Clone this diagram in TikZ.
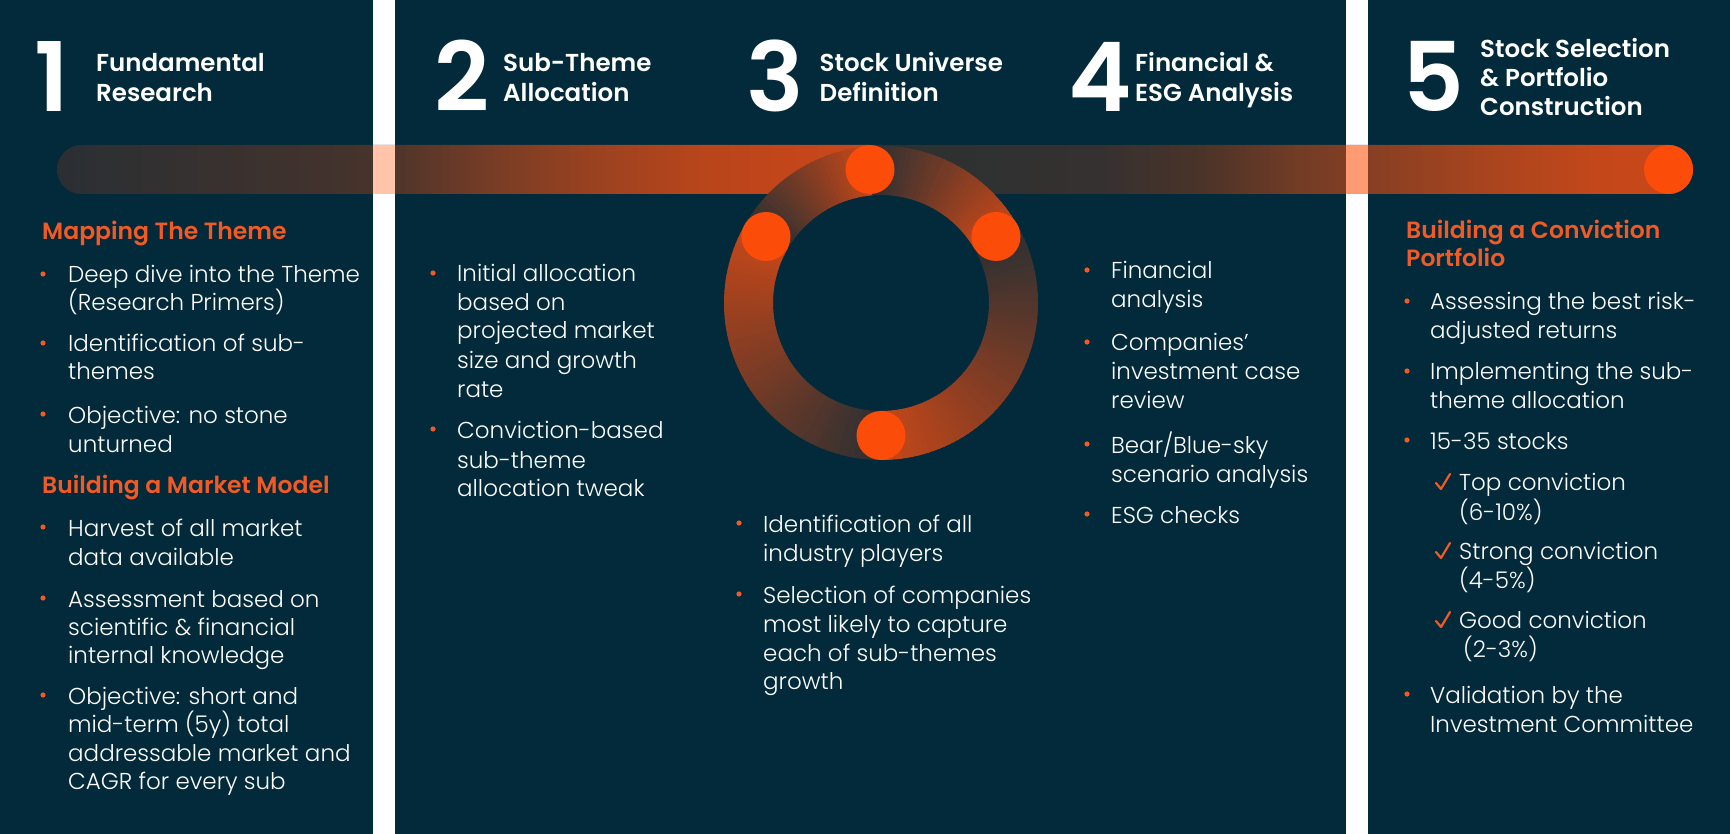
\documentclass[tikz,border=0pt]{standalone}
\usepackage{fontspec}
\IfFontExistsTF{Poppins Light}{\newfontfamily\bodyfnt{Poppins Light}}{\newfontfamily\bodyfnt{Poppins}}
\IfFontExistsTF{Poppins SemiBold}{\newfontfamily\headfnt{Poppins SemiBold}}{\newfontfamily\headfntbase{Poppins}\newcommand\headfnt{\headfntbase\bfseries}}
\definecolor{navy}{RGB}{2,42,58}
\definecolor{orng}{RGB}{241,90,36}
\definecolor{dotc}{RGB}{252,76,10}
\definecolor{ringD}{RGB}{45,48,50}
\definecolor{ringE}{RGB}{198,71,25}
\definecolor{peachA}{RGB}{255,196,170}
\definecolor{peachB}{RGB}{255,155,115}
\definecolor{ba0}{RGB}{42,47,51}
\definecolor{ba1}{RGB}{70,51,44}
\definecolor{ba2}{RGB}{122,61,37}
\definecolor{ba3}{RGB}{156,66,32}
\definecolor{ba4}{RGB}{184,69,27}
\definecolor{ba5}{RGB}{196,70,26}
\definecolor{ba6}{RGB}{202,72,24}
\definecolor{bb0}{RGB}{47,49,49}
\definecolor{bb2}{RGB}{53,49,48}
\definecolor{bb3}{RGB}{74,51,41}
\definecolor{bb4}{RGB}{115,60,37}
\definecolor{bb5}{RGB}{128,62,36}
\definecolor{bb6}{RGB}{172,69,30}
\definecolor{bb7}{RGB}{196,71,26}
\definecolor{bb8}{RGB}{200,72,26}
\pgfdeclarehorizontalshading{barA}{100bp}{color(0bp)=(ba0); color(25bp)=(ba0); color(44.43bp)=(ba1); color(52.24bp)=(ba2); color(58.39bp)=(ba3); color(64.55bp)=(ba4); color(70.69bp)=(ba5); color(75bp)=(ba6); color(100bp)=(ba6)}
\pgfdeclarehorizontalshading{barB}{100bp}{color(0bp)=(bb0); color(25bp)=(bb0); color(30.77bp)=(bb0); color(38.97bp)=(bb2); color(45.05bp)=(bb3); color(51.12bp)=(bb4); color(53.92bp)=(bb5); color(63.27bp)=(bb6); color(69.35bp)=(bb7); color(75bp)=(bb8); color(100bp)=(bb8)}
\tikzset{
  body/.style={font=\bodyfnt\fontsize{23}{28}\selectfont, text=white, inner sep=0pt, anchor=base west},
  head/.style={font=\headfnt\fontsize{23.5}{28}\selectfont, text=orng, inner sep=0pt, anchor=base west},
  ttl/.style={font=\headfnt\fontsize{24.5}{30}\selectfont, text=white, inner sep=0pt, anchor=base west},
  bignum/.style={font=\headfnt\fontsize{96}{96}\selectfont, text=white, inner sep=0pt, anchor=base},
  dot/.style={circle, fill=dotc, minimum size=49pt, inner sep=0pt},
  bul/.style={fill=orng},
  tick/.style={draw=orng, line width=2.2pt, line cap=round, line join=round}
}
\begin{document}
\begin{tikzpicture}[x=1pt,y=-1pt]
\useasboundingbox (0,0) rectangle (1730,834);
\fill[navy] (0,0) rectangle (1730,834);
% white separators
\fill[white] (373,0) rectangle (395,834);
\fill[white] (1346,0) rectangle (1368,834);
% timeline bar
\shade[shading=barA] (81.5,145) -- (870,145) -- (870,194) -- (81.5,194) arc[start angle=90, end angle=270, radius=24.5] -- cycle;
\shade[shading=barB] (870,145) -- (1668.5,145) arc[start angle=-90, end angle=90, radius=24.5] -- (870,194) -- cycle;
\fill[peachA] (373,145) rectangle (395,194);
\fill[peachB] (1346,145) rectangle (1368,194);
% ring
\begin{scope}[shift={(881,303)}]
\foreach \a/\b/\n in {210/265.3/28, 265.3/330/32, 330/450/60, 450/570/60}{
  \foreach \k in {1,...,\n}{
    \pgfmathsetmacro\s{\a+(\b-\a)*(\k-1)/\n}
    \pgfmathsetmacro\e{\a+(\b-\a)*\k/\n+0.5}
    \pgfmathtruncatemacro\p{100*(\k-1)/(\n-1)}
    \colorlet{wc}{ringE!\p!ringD}
    \fill[wc] (\s:108) arc[start angle=\s, end angle=\e, radius=108] -- (\e:157) arc[start angle=\e, end angle=\s, radius=157] -- cycle;
  }
}
\end{scope}
% dots
\node[dot] (dleft) at (766,236.5) {};
\node[dot] (dtop) at (870,169.5) {};
\node[dot] (dright) at (996,236.5) {};
\node[dot] (dbottom) at (881,435.5) {};
\node[dot] (dend) at (1668.5,169.5) {};
% headers
\node[bignum] (n1) at (51.5,112) {1};
\node[bignum] (n2) at (462,112) {2};
\node[bignum] (n3) at (775,112) {3};
\node[bignum] (n4) at (1100,112) {4};
\node[bignum] (n5) at (1433.5,112) {5};
\node[ttl] (t1a) at (96,72) {Fundamental};
\node[ttl] (t1b) at (96,102) {Research};
\node[ttl] (t2a) at (503,72) {Sub-Theme};
\node[ttl] (t2b) at (503,102) {Allocation};
\node[ttl] (t3a) at (819.5,72) {Stock Universe};
\node[ttl] (t3b) at (819.5,102) {Definition};
\node[ttl] (t4a) at (1135,72) {Financial \&};
\node[ttl] (t4b) at (1135,102) {ESG Analysis};
\node[ttl] (t5a) at (1480,58) {Stock Selection};
\node[ttl] (t5b) at (1480,87) {\& Portfolio};
\node[ttl] (t5c) at (1480,116) {Construction};
% column 1
\node[head] (h1a) at (42,240) {Mapping The Theme};
\node[head] (h1b) at (42,493) {Building a Market Model};
\foreach \y/\t [count=\i] in {283/Deep dive into the Theme, 311/(Research Primers), 352/Identification of sub-, 380/themes, 423/Objective: no stone, 452/unturned, 536/Harvest of all market, 565/data available, 607/Assessment based on, 635/scientific \& financial, 663/internal knowledge, 704/Objective: short and, 732/mid-term (5y) total, 761/addressable market and, 789/CAGR for every sub}
  {\node[body, name=a\i] at (68,\y) {\t};}
\foreach \y in {283,352,423,536,607,704} \fill[bul] (43,\y-9) circle[radius=2.6];
% column 2
\foreach \y/\t [count=\i] in {282/Initial allocation, 311/based on, 339/projected market, 368/size and growth, 397/rate, 438/Conviction-based, 468/sub-theme, 496/allocation tweak}
  {\node[body, name=b\i] at (457,\y) {\t};}
\foreach \y in {282,438} \fill[bul] (433,\y-9) circle[radius=2.6];
% column 3
\foreach \y/\t [count=\i] in {532/Identification of all, 561/industry players, 603/Selection of companies, 632/most likely to capture, 661/each of sub-themes, 689/growth}
  {\node[body, name=c\i] at (763,\y) {\t};}
\foreach \y in {532,603} \fill[bul] (739,\y-9) circle[radius=2.6];
% column 4
\foreach \y/\t [count=\i] in {279/Financial, 308/analysis, 351/Companies’, 380/investment case, 408/review, 453/{Bear/Blue-sky}, 482/scenario analysis, 523/ESG checks}
  {\node[body, name=e\i] at (1111,\y) {\t};}
\foreach \y in {279,351,453,523} \fill[bul] (1087,\y-9) circle[radius=2.6];
% column 5
\node[head] (h5a) at (1406,239) {Building a Conviction};
\node[head] (h5b) at (1406,267) {Portfolio};
\foreach \y/\t [count=\i] in {310/Assessing the best risk-, 338/adjusted returns, 380/Implementing the sub-, 408/theme allocation, 449/15-35 stocks, 703/Validation by the, 732/Investment Committee}
  {\node[body, name=f\i] at (1430,\y) {\t};}
\foreach \y in {310,380,449,703} \fill[bul] (1407,\y-9) circle[radius=2.6];
\foreach \y/\t [count=\i] in {490/Top conviction, 520/(6-10\%), 559/Strong conviction, 588/(4-5\%), 628/Good conviction}
  {\node[body, name=g\i] at (1459,\y) {\t};}
\node[body] (g6) at (1463,657) {(2-3\%)};
\foreach \y in {490,559,628} \draw[tick] (1436,\y-7) -- (1441,\y-1) -- (1450,\y-16);
\end{tikzpicture}
\end{document}
